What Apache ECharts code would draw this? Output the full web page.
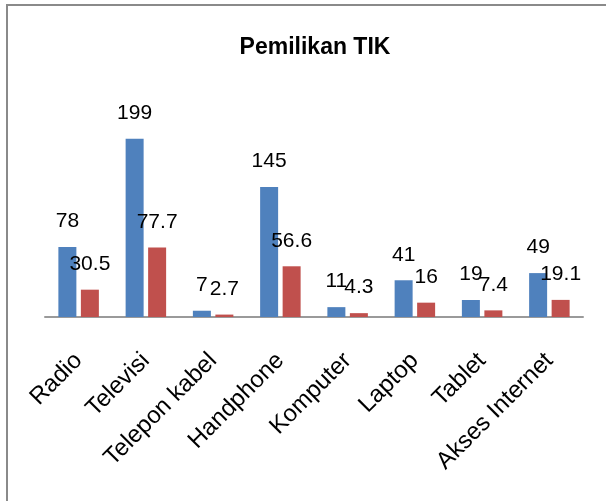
<!DOCTYPE html>
<html>
<head>
<meta charset="utf-8">
<script src="https://cdn.jsdelivr.net/npm/echarts@6/dist/echarts.min.js"></script>
<style>
  html, body { margin: 0; padding: 0; background: #fff; }
  #chart { width: 606px; height: 501px; }
</style>
</head>
<body>
<div id="chart"></div>
<script>
// data
var categories = ['Radio', 'Televisi', 'Telepon kabel', 'Handphone', 'Komputer', 'Laptop', 'Tablet', 'Akses Internet'];
var seriesA = [78, 199, 7, 145, 11, 41, 19, 49];
var seriesB = [30.5, 77.7, 2.7, 56.6, 4.3, 16, 7.4, 19.1];

var font = '"Liberation Sans", Arial, sans-serif';

var myChart = echarts.init(document.getElementById('chart'));

var labelOpt = {
  show: true,
  position: 'top',
  distance: 15,
  color: '#000',
  fontSize: 21,
  fontFamily: font
};

myChart.setOption({
  animation: false,
  title: {
    text: 'Pemilikan TIK',
    left: 310,
    textAlign: 'center',
    top: 31,
    textStyle: { fontSize: 23, fontWeight: 'bold', color: '#000', fontFamily: font }
  },
  // chart frame (only left and top edges show inside the picture)
  graphic: [{
    type: 'rect',
    shape: { x: 7, y: 5, width: 800, height: 700 },
    style: { fill: 'none', stroke: '#8a8a8a', lineWidth: 2 },
    silent: true
  }],
  grid: { left: 45, right: 23, top: 93, bottom: 184 },
  xAxis: {
    type: 'category',
    data: categories,
    axisLine: { lineStyle: { color: '#9a9a9a', width: 2 } },
    axisTick: { show: false },
    axisLabel: {
      rotate: 45,
      interval: 0,
      margin: 40,
      color: '#000',
      fontSize: 24,
      fontFamily: font
    }
  },
  yAxis: {
    type: 'value',
    min: 0,
    max: 250,
    show: false,
    splitLine: { show: false }
  },
  series: [
    {
      type: 'bar',
      data: seriesA,
      barWidth: 18,
      barGap: '25%',
      itemStyle: { color: '#4F81BD' },
      label: labelOpt
    },
    {
      type: 'bar',
      data: seriesB,
      barWidth: 18,
      itemStyle: { color: '#C0504D' },
      label: labelOpt
    }
  ]
});

window.onresize = function () {
  myChart.resize();
};
</script>
</body>
</html>
